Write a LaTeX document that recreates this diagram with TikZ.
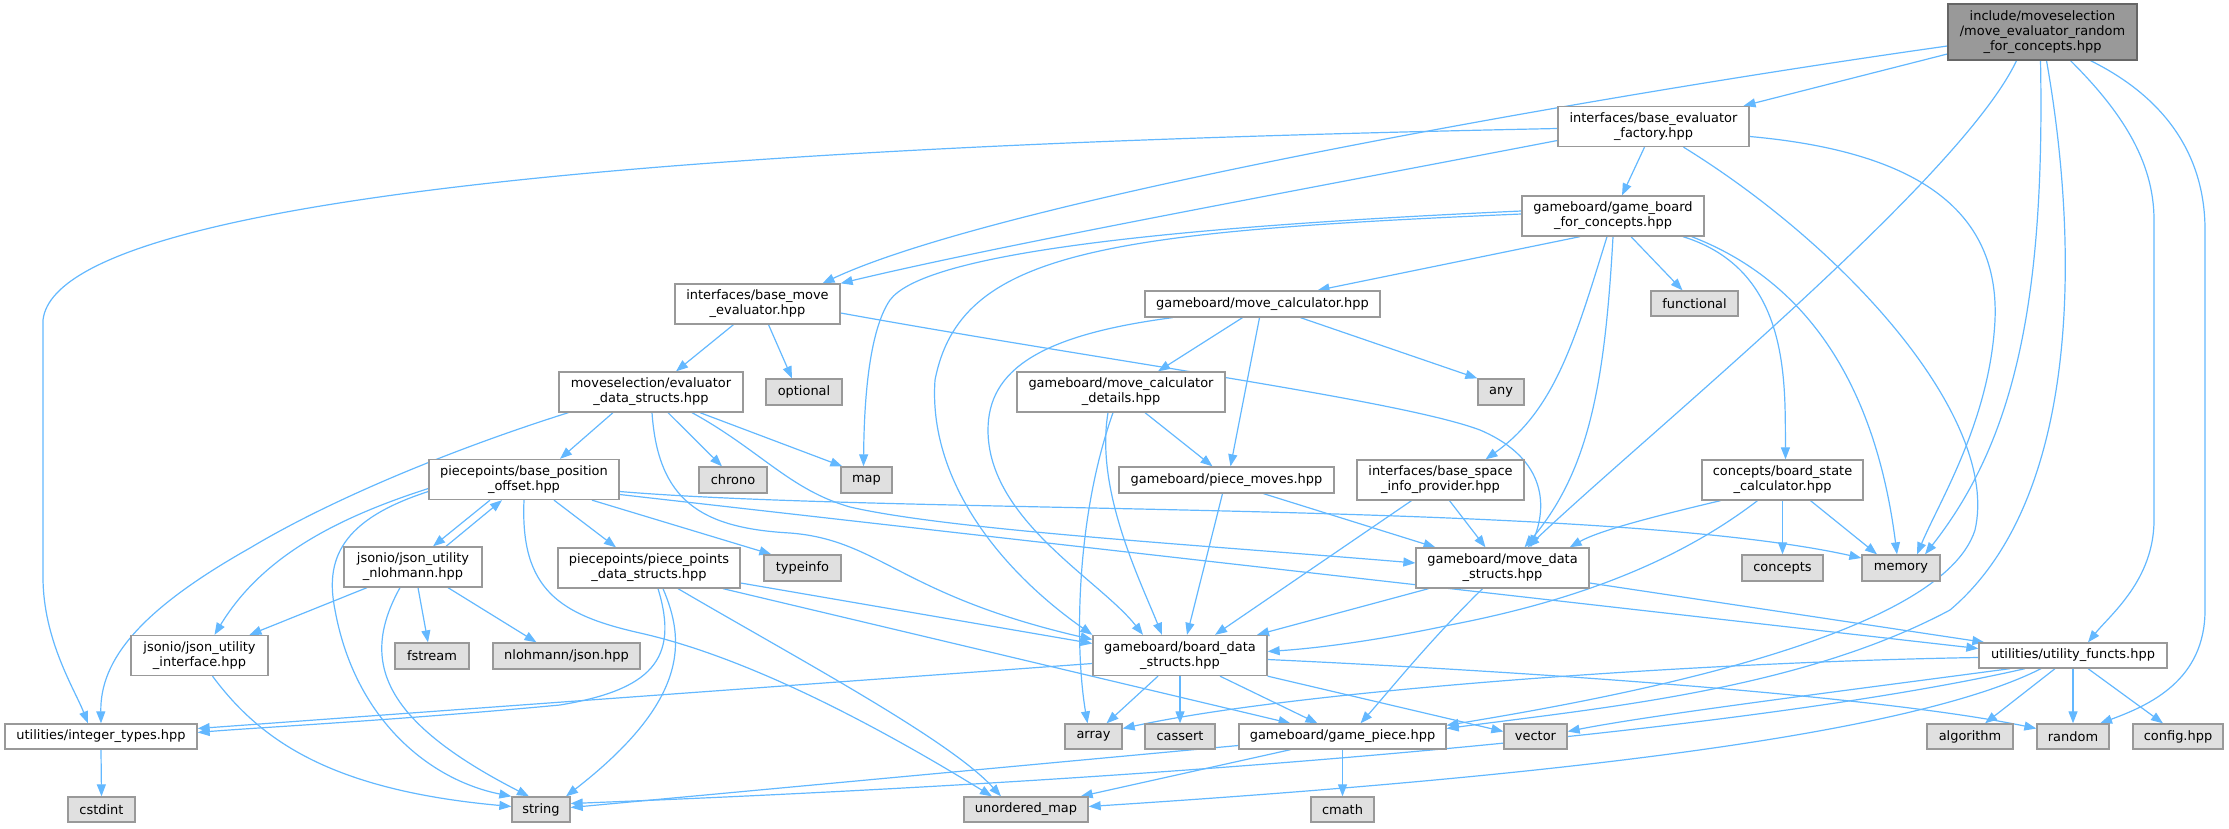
\documentclass[tikz,border=0pt]{standalone}
\usepackage{fontspec}
\setmainfont{DejaVu Sans}
\usetikzlibrary{arrows.meta,calc}
\definecolor{edgec}{HTML}{63B8FF}
\definecolor{nodeb}{HTML}{999999}
\definecolor{sysf}{HTML}{E0E0E0}
\definecolor{rootf}{HTML}{999999}
\definecolor{rootb}{HTML}{666666}
\pgfdeclarelayer{bg}
\pgfsetlayers{bg,main}
\begin{document}
\begin{tikzpicture}[x=1bp,y=-1bp,
  fbox/.style={draw=nodeb, fill=white, line width=1.3bp, inner sep=0pt, align=center,
    font=\fontsize{13}{15}\selectfont, minimum height=26bp},
  tbox/.style={fbox, minimum height=40bp},
  sbox/.style={fbox, fill=sysf},
  rbox/.style={fbox, fill=rootf, draw=rootb, minimum height=56bp},
  dep/.style={draw=edgec, line width=1.2bp, -{Triangle[length=12bp,width=9bp]}}
]
\useasboundingbox (0,0) rectangle (2229,828);

% ---- nodes ----
\node[rbox, minimum width=189bp] (R) at (2042.5,32) {include/moveselection\\/move\_evaluator\_random\\\_for\_concepts.hpp};
\node[tbox, minimum width=191bp] (BEF) at (1653.5,126.5) {interfaces/base\_evaluator\\\_factory.hpp};
\node[tbox, minimum width=182bp] (GBC) at (1613,216) {gameboard/game\_board\\\_for\_concepts.hpp};
\node[sbox, minimum width=87bp, minimum height=25bp] (functional) at (1694.5,303.5) {functional};
\node[tbox, minimum width=165bp] (BME) at (757.5,304) {interfaces/base\_move\\\_evaluator.hpp};
\node[fbox, minimum width=235bp] (MC) at (1262.5,304) {gameboard/move\_calculator.hpp};
\node[sbox, minimum width=76bp] (optional) at (804,392) {optional};
\node[tbox, minimum width=184bp] (EDS) at (651,392) {moveselection/evaluator\\\_data\_structs.hpp};
\node[tbox, minimum width=208bp] (MCD) at (1121,392) {gameboard/move\_calculator\\\_details.hpp};
\node[sbox, minimum width=46bp] (nany) at (1501,392) {any};
\node[tbox, minimum width=190bp] (BPO) at (524,479.5) {piecepoints/base\_position\\\_offset.hpp};
\node[sbox, minimum width=68bp] (chrono) at (733,480) {chrono};
\node[sbox, minimum width=51bp] (nmap) at (866.5,480) {map};
\node[fbox, minimum width=215bp] (PM) at (1226.5,480) {gameboard/piece\_moves.hpp};
\node[tbox, minimum width=167bp] (BSIP) at (1440.5,480) {interfaces/base\_space\\\_info\_provider.hpp};
\node[tbox, minimum width=161bp] (BSC) at (1782.5,480) {concepts/board\_state\\\_calculator.hpp};
\node[tbox, minimum width=138bp] (JUN) at (413,567) {jsonio/json\_utility\\\_nlohmann.hpp};
\node[tbox, minimum width=182bp] (PPDS) at (649,568) {piecepoints/piece\_points\\\_data\_structs.hpp};
\node[sbox, minimum width=77bp] (typeinfo) at (802.5,568) {typeinfo};
\node[tbox, minimum width=173bp] (MDS) at (1502.5,568) {gameboard/move\_data\\\_structs.hpp};
\node[sbox, minimum width=81bp] (concepts) at (1782.5,568) {concepts};
\node[sbox, minimum width=78bp] (memory) at (1901,568) {memory};
\node[tbox, minimum width=137bp] (JUI) at (199.5,655.5) {jsonio/json\_utility\\\_interface.hpp};
\node[sbox, minimum width=74bp] (fstream) at (432,656) {fstream};
\node[sbox, minimum width=147bp] (nlohmann) at (566.5,656) {nlohmann/json.hpp};
\node[tbox, minimum width=174bp] (BDS) at (1180,655.5) {gameboard/board\_data\\\_structs.hpp};
\node[fbox, minimum width=188bp, minimum height=25bp] (UF) at (2073,655.5) {utilities/utility\_functs.hpp};
\node[fbox, minimum width=192bp, minimum height=25bp] (IT) at (101,736.5) {utilities/integer\_types.hpp};
\node[sbox, minimum width=57bp, minimum height=25bp] (narray) at (1093.5,736.5) {array};
\node[sbox, minimum width=70bp, minimum height=25bp] (cassert) at (1180,736.5) {cassert};
\node[fbox, minimum width=207bp, minimum height=25bp] (GP) at (1342.5,736.5) {gameboard/game\_piece.hpp};
\node[sbox, minimum width=63bp, minimum height=25bp] (nvector) at (1535.5,736.5) {vector};
\node[sbox, minimum width=86bp, minimum height=25bp] (algorithm) at (1970,736.5) {algorithm};
\node[sbox, minimum width=72bp, minimum height=25bp] (nrandom) at (2073,736.5) {random};
\node[sbox, minimum width=90bp, minimum height=25bp] (config) at (2178,736.5) {config.hpp};
\node[sbox, minimum width=67bp, minimum height=25bp] (cstdint) at (101.5,809.5) {cstdint};
\node[sbox, minimum width=58bp, minimum height=25bp] (nstring) at (541,809.5) {string};
\node[sbox, minimum width=124bp, minimum height=25bp] (umap) at (1026,809.5) {unordered\_map};
\node[sbox, minimum width=63bp, minimum height=25bp] (cmath) at (1342.5,809.5) {cmath};

% ---- edges ----
\begin{pgfonlayer}{bg}
% root
\draw[dep] ($(R.west)+(0,22)$) -- ($(BEF.north)+(90,0)$);
\draw[dep] ($(R.west)+(0,14)$) .. controls (1600,95) and (1000,200) .. ($(BME.north)+(65,0)$);
\draw[dep] ($(R.south)+(-26,0)$) .. controls (1960,180) and (1640,440) .. ($(MDS.north)+(25,0)$);
\draw[dep] ($(R.south)+(-2,0)$) .. controls (2045,300) and (2015,440) .. ($(memory.north)+(24,0)$);
\draw[dep] ($(R.south)+(4,0)$) .. controls (2080,250) and (2080,500) .. (1950,610) .. controls (1800,690) and (1600,708) .. ($(GP.east)+(0,-8)$);
\draw[dep] ($(R.south)+(28,0)$) .. controls (2120,110) and (2154,160) .. (2154,220) -- (2154,520) .. controls (2154,580) and (2110,615) .. ($(UF.north)+(15,0)$);
\draw[dep] ($(R.south)+(48,0)$) .. controls (2170,100) and (2205,160) .. (2205,230) -- (2205,610) .. controls (2205,680) and (2150,705) .. ($(nrandom.north)+(27,0)$);
% base_evaluator_factory
\draw[dep] ($(BEF.west)+(0,2)$) .. controls (1000,140) and (60,170) .. (43,320) -- (43,577) .. controls (43,640) and (75,690) .. ($(IT.north)+(-13,0)$);
\draw[dep] ($(BEF.west)+(0,14)$) .. controls (1300,190) and (1000,245) .. (BME.north east);
\draw[dep] ($(BEF.south)+(-9,0)$) -- ($(GBC.north)+(9,0)$);
\draw[dep] ($(BEF.east)+(0,10)$) .. controls (1900,150) and (2000,200) .. (1995,320) .. controls (1990,420) and (1940,500) .. ($(memory.north)+(16,0)$);
\draw[dep] ($(BEF.south)+(30,0)$) .. controls (1850,250) and (2000,420) .. (1975,530) .. controls (1940,640) and (1600,700) .. ($(GP.north east)+(0,2)$);
% game_board_for_concepts
\draw[dep] ($(GBC.west)+(0,-5)$) .. controls (1100,230) and (920,260) .. (890,300) .. controls (866,335) and (864,420) .. ($(nmap.north)+(-3,0)$);
\draw[dep] ($(GBC.west)+(0,-2)$) .. controls (1100,232) and (960,252) .. (935,380) .. controls (928,480) and (1000,570) .. (BDS.north west);
\draw[dep] ($(GBC.south)+(-33,0)$) -- ($(MC.north)+(55,0)$);
\draw[dep] ($(GBC.south)+(-6,0)$) .. controls (1575,340) and (1555,410) .. ($(BSIP.north)+(45,0)$);
\draw[dep] (GBC.south) .. controls (1605,380) and (1590,470) .. ($(MDS.north)+(22,0)$);
\draw[dep] ($(GBC.south)+(18,0)$) -- ($(functional.north)+(-12,0)$);
\draw[dep] ($(GBC.south)+(70,0)$) .. controls (1790,270) and (1785,380) .. ($(BSC.north)+(3,0)$);
\draw[dep] ($(GBC.south east)+(-13,0)$) .. controls (1830,290) and (1880,420) .. ($(memory.north)+(-4,0)$);
% base_move_evaluator
\draw[dep] ($(BME.south)+(-24,0)$) -- ($(EDS.north)+(25,0)$);
\draw[dep] ($(BME.south)+(11,0)$) -- ($(optional.north)+(-12,0)$);
\draw[dep] ($(BME.east)+(0,9)$) .. controls (1100,360) and (1400,400) .. (1480,430) .. controls (1550,460) and (1545,510) .. ($(MDS.north)+(28,0)$);
% move_calculator
\draw[dep] ($(MC.south)+(-90,0)$) .. controls (1040,335) and (988,370) .. (988,430) .. controls (988,520) and (1100,580) .. ($(BDS.north)+(-37,0)$);
\draw[dep] ($(MC.south)+(-20,0)$) -- ($(MCD.north)+(37,0)$);
\draw[dep] ($(MC.south)+(-3,0)$) -- ($(PM.north)+(4,0)$);
\draw[dep] ($(MC.south)+(38,0)$) -- (nany.north west);
% move_calculator_details
\draw[dep] ($(MCD.south)+(-8,0)$) .. controls (1075,520) and (1075,650) .. ($(narray.north)+(-6,0)$);
\draw[dep] ($(MCD.south)+(-13,0)$) .. controls (1095,490) and (1140,580) .. ($(BDS.north)+(-18,0)$);
\draw[dep] ($(MCD.south)+(24,0)$) -- ($(PM.north)+(-14,0)$);
% piece_moves
\draw[dep] ($(PM.south)+(-4,0)$) -- ($(BDS.north)+(7,0)$);
\draw[dep] ($(PM.south)+(37,0)$) -- ($(MDS.north)+(-67,0)$);
% base_space_info_provider
\draw[dep] ($(BSIP.south)+(-29,0)$) -- ($(BDS.north)+(35,0)$);
\draw[dep] ($(BSIP.south)+(9,0)$) -- ($(MDS.north)+(-17,0)$);
% board_state_calculator
\draw[dep] ($(BSC.south)+(-62,0)$) .. controls (1660,515) and (1600,530) .. ($(MDS.north east)+(-20,0)$);
\draw[dep] ($(BSC.south)+(-25,0)$) .. controls (1680,560) and (1580,600) .. (1450,625) .. controls (1380,640) and (1320,648) .. ($(BDS.east)+(0,-4)$);
\draw[dep] (BSC.south) -- (concepts.north);
\draw[dep] ($(BSC.south)+(28,0)$) -- ($(memory.north)+(-24,0)$);
% evaluator_data_structs
\draw[dep] ($(EDS.south)+(-38,0)$) -- ($(BPO.north)+(36,0)$);
\draw[dep] ($(EDS.south)+(17,0)$) -- ($(chrono.north)+(-11,0)$);
\draw[dep] ($(EDS.south)+(49,0)$) -- ($(nmap.north west)+(2,0)$);
\draw[dep] ($(EDS.south)+(41,0)$) .. controls (760,450) and (790,490) .. (850,507) .. controls (950,530) and (1200,545) .. ($(MDS.west)+(0,-5)$);
\draw[dep] ($(EDS.south)+(1,0)$) .. controls (658,500) and (700,528) .. (790,533) .. controls (880,540) and (900,595) .. ($(BDS.west)+(0,-16)$);
\draw[dep] ($(EDS.south west)+(10,0)$) .. controls (450,450) and (330,500) .. (250,548) .. controls (140,610) and (100,660) .. (IT.north);
% base_position_offset
\draw[dep] ($(BPO.south)+(-34,0)$) -- ($(JUN.north)+(20,0)$);
\draw[dep] ($(JUN.north)+(33,0)$) -- ($(BPO.south)+(-22,0)$);
\draw[dep] ($(BPO.west)+(0,9)$) .. controls (330,520) and (260,560) .. ($(JUI.north)+(15,0)$);
\draw[dep] ($(BPO.west)+(0,12)$) .. controls (340,520) and (325,560) .. (335,610) .. controls (355,720) and (430,780) .. (nstring.north west);
\draw[dep] ($(BPO.south)+(68,0)$) -- ($(typeinfo.north west)+(8,0)$);
\draw[dep] ($(BPO.south)+(30,0)$) -- ($(PPDS.north)+(-33,0)$);
\draw[dep] (BPO.south) .. controls (520,590) and (560,615) .. (640,633) .. controls (760,660) and (900,740) .. ($(umap.north)+(-34,0)$);
\draw[dep] ($(BPO.east)+(0,12)$) .. controls (900,515) and (1600,500) .. ($(memory.west)+(0,-10)$);
\draw[dep] ($(BPO.east)+(0,15)$) -- ($(UF.west)+(0,-7)$);
% piece_points_data_structs
\draw[dep] ($(PPDS.south)+(29,0)$) .. controls (800,660) and (950,740) .. ($(umap.north)+(-25,0)$);
\draw[dep] ($(PPDS.south)+(14,0)$) .. controls (685,640) and (690,700) .. ($(nstring.north)+(25,0)$);
\draw[dep] ($(PPDS.south)+(9,0)$) .. controls (680,660) and (650,690) .. (560,705) .. controls (400,720) and (250,728) .. ($(IT.east)+(0,-4)$);
\draw[dep] ($(PPDS.east)+(0,15)$) -- ($(BDS.west)+(0,-12)$);
\draw[dep] ($(PPDS.south)+(74,0)$) -- ($(GP.north)+(-52,0)$);
% json_utility_nlohmann
\draw[dep] ($(JUN.south)+(-46,0)$) -- ($(JUI.north)+(50,0)$);
\draw[dep] ($(JUN.south)+(-13,0)$) .. controls (360,660) and (380,720) .. ($(nstring.north)+(-12,0)$);
\draw[dep] ($(JUN.south)+(5,0)$) -- ($(fstream.north)+(-4,0)$);
\draw[dep] ($(JUN.south)+(35,0)$) -- ($(nlohmann.north)+(-30,0)$);
% json_utility_interface
\draw[dep] ($(JUI.south)+(13,0)$) .. controls (260,740) and (330,790) .. ($(nstring.west)+(0,-3)$);
% integer_types
\draw[dep] (IT.south) -- (cstdint.north);
% move_data_structs
\draw[dep] ($(MDS.south)+(-74,0)$) -- ($(BDS.north)+(77,0)$);
\draw[dep] ($(MDS.south)+(-20,0)$) .. controls (1430,640) and (1390,690) .. ($(GP.north)+(18,0)$);
\draw[dep] ($(MDS.east)+(0,15)$) -- ($(UF.north west)+(6,0)$);
% board_data_structs
\draw[dep] ($(BDS.west)+(0,8)$) -- ($(IT.east)+(0,-8)$);
\draw[dep] ($(BDS.south)+(-22,0)$) -- ($(narray.north)+(13,0)$);
\draw[dep] (BDS.south) -- (cassert.north);
\draw[dep] ($(BDS.south)+(40,0)$) -- ($(GP.north)+(-25,0)$);
\draw[dep] (BDS.south east) -- ($(nvector.west)+(0,-5)$);
\draw[dep] ($(BDS.east)+(0,4)$) .. controls (1600,675) and (1900,700) .. ($(nrandom.west)+(0,-8)$);
% utility_functs
\draw[dep] ($(UF.west)+(0,2)$) .. controls (1700,662) and (1300,690) .. ($(narray.east)+(0,-8)$);
\draw[dep] ($(UF.south)+(-63,0)$) .. controls (1850,690) and (1650,715) .. ($(nvector.east)+(0,-5)$);
\draw[dep] ($(UF.south)+(-18,0)$) -- ($(algorithm.north)+(15,0)$);
\draw[dep] (UF.south) -- (nrandom.north);
\draw[dep] ($(UF.south)+(15,0)$) -- ($(config.north)+(-15,0)$);
\draw[dep] ($(UF.south)+(-48,0)$) .. controls (1800,720) and (1300,775) .. ($(nstring.east)+(0,-6)$);
\draw[dep] ($(UF.south)+(-32,0)$) .. controls (1900,740) and (1500,780) .. ($(umap.east)+(0,-3)$);
% game_piece
\draw[dep] ($(GP.west)+(0,9)$) -- ($(nstring.east)+(0,-2)$);
\draw[dep] ($(GP.south)+(-52,0)$) -- ($(umap.north east)+(-8,0)$);
\draw[dep] (GP.south) -- (cmath.north);
\end{pgfonlayer}
\end{tikzpicture}
\end{document}
